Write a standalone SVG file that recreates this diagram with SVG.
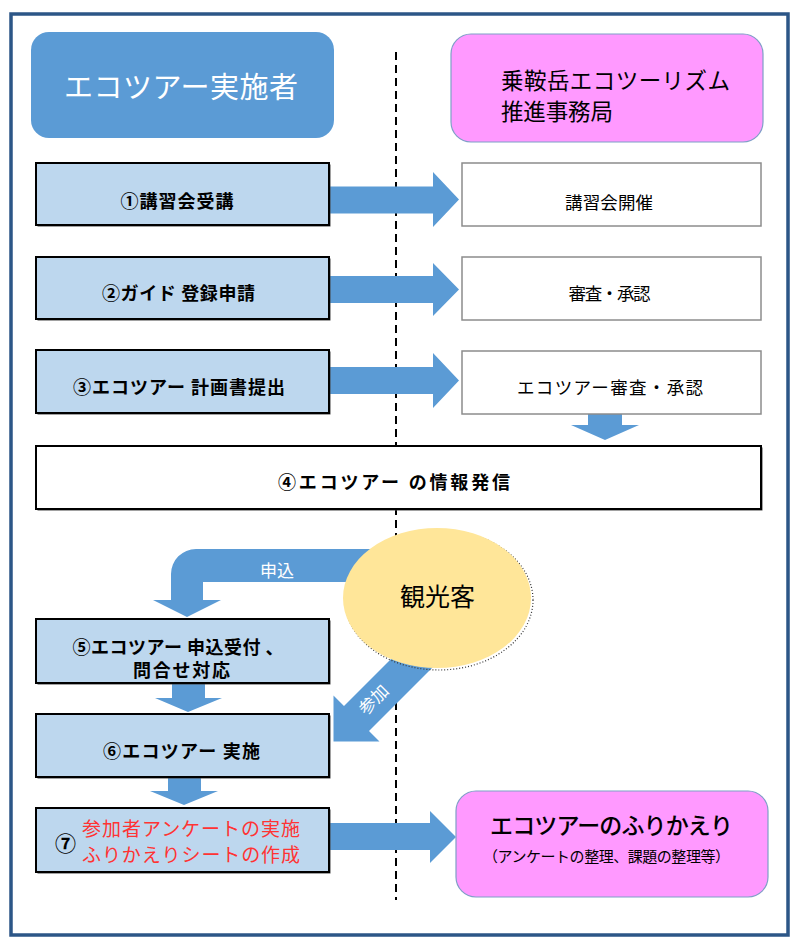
<svg xmlns="http://www.w3.org/2000/svg" width="801" height="945" viewBox="0 0 801 945">
<style>
text{font-family:"Noto Sans CJK JP","Noto Sans",sans-serif;}
.step{fill:#bdd7ee;stroke:#000;stroke-width:2;}
.shadow{fill:#444;}
.resp{fill:#fff;stroke:#8c8c8c;stroke-width:1.5;}
.arr{fill:#5b9bd5;}
.bt{font-size:18px;font-weight:bold;fill:#000;text-anchor:middle;}
.rt{font-size:17.5px;fill:#000;text-anchor:middle;}
.red{font-size:19px;fill:#ff3333;}
</style>
<rect x="0" y="0" width="801" height="945" fill="#fff"/>
<rect id="frame" x="11" y="14" width="777" height="921" fill="#fff" stroke="#2c5687" stroke-width="3.5"/>
<line id="divider" x1="396" y1="52" x2="396" y2="900" stroke="#000" stroke-width="2" stroke-dasharray="8,5"/>

<g id="connectors">
<polygon class="arr" points="330,186.5 433,186.5 433,172 459,199.5 433,227 433,213.5 330,213.5"/>
<polygon class="arr" points="330,276 433,276 433,263 459,289.5 433,316 433,303 330,303"/>
<polygon class="arr" points="330,367 433,367 433,353 459,380.5 433,408 433,394 330,394"/>
<polygon class="arr" points="588,410 622,410 622,425 639,425 605,440 571,425 588,425"/>
<polygon class="arr" points="172,683 205,683 205,698 222,698 188,712 155,698 172,698"/>
<polygon class="arr" points="168,777 201,777 201,791 218,791 184,805 150,791 168,791"/>
<polygon class="arr" points="329,823 430,823 430,811 456,837 430,863 430,850 329,850"/>
<path class="arr" d="M400,549 L196,549 A25,25 0 0 0 171,574 L171,600 L153,600 L187,617 L221,600 L203,600 L203,582 L400,582 Z"/>
<text x="277" y="577" font-size="17" fill="#fff" text-anchor="middle">申込</text>
<polygon class="arr" points="415,635 344,706 333.5,695.5 333.5,741.5 379.5,741.5 369,731 440,660"/>
<text x="0" y="0" font-size="17" fill="#fff" text-anchor="middle" transform="translate(378,704) rotate(-45)">参加</text>
</g>

<g id="header-left">
<rect x="31" y="32" width="303" height="106" rx="18" fill="#5b9bd5"/>
<text x="181" y="98" font-size="29" fill="#fff" text-anchor="middle" textLength="234" lengthAdjust="spacing">エコツアー実施者</text>
</g>
<g id="header-right">
<rect x="451" y="34" width="312" height="108" rx="20" fill="#ff99ff" stroke="#7f9fc7" stroke-width="1.2"/>
<text x="501" y="89" font-size="22.5" fill="#000" textLength="229" lengthAdjust="spacing">乗鞍岳エコツーリズム</text>
<text x="501" y="119.5" font-size="22.5" fill="#000" textLength="112" lengthAdjust="spacing">推進事務局</text>
</g>

<g id="step1">
<rect class="shadow" x="37.5" y="164.5" width="293" height="62"/>
<rect class="step" x="36" y="163" width="293" height="62"/>
<text class="bt" x="177" y="208" textLength="113" lengthAdjust="spacing">①講習会受講</text>
</g>
<g id="step2">
<rect class="shadow" x="37.5" y="258.5" width="293" height="62"/>
<rect class="step" x="36" y="257" width="293" height="62"/>
<text class="bt" x="178.5" y="299.5" textLength="153" lengthAdjust="spacing">②ガイド 登録申請</text>
</g>
<g id="step3">
<rect class="shadow" x="37.5" y="351.5" width="293" height="63"/>
<rect class="step" x="36" y="350" width="293" height="63"/>
<text class="bt" x="179" y="394" textLength="212" lengthAdjust="spacing">③エコツアー 計画書提出</text>
</g>

<g id="office1">
<rect class="resp" x="462" y="163" width="299" height="63"/>
<text class="rt" x="609" y="209" textLength="88" lengthAdjust="spacing">講習会開催</text>
</g>
<g id="office2">
<rect class="resp" x="462" y="257" width="299" height="63"/>
<text class="rt" x="609.5" y="300" textLength="82" lengthAdjust="spacing">審査・承認</text>
</g>
<g id="office3">
<rect class="resp" x="462" y="351" width="299" height="63"/>
<text class="rt" x="610" y="393.5" textLength="186" lengthAdjust="spacing">エコツアー審査・承認</text>
</g>

<g id="step4">
<rect class="shadow" x="37.5" y="447.5" width="725" height="63"/>
<rect x="36" y="446" width="725" height="63" fill="#fff" stroke="#000" stroke-width="2"/>
<text class="bt" x="394" y="489" font-size="19" textLength="232" lengthAdjust="spacing">④エコツアー の情報発信</text>
</g>

<g id="tourist">
<ellipse cx="439" cy="600" rx="94" ry="70" fill="none" stroke="#333" stroke-width="1.2" stroke-dasharray="1,2"/>
<ellipse cx="437" cy="598" rx="94" ry="70" fill="#ffe699"/>
<text x="437.5" y="606" font-size="25" fill="#000" text-anchor="middle">観光客</text>
</g>

<g id="step5">
<rect class="shadow" x="37.5" y="620.5" width="293" height="64"/>
<rect class="step" x="36" y="619" width="293" height="64"/>
<text class="bt" x="178" y="653.5" font-size="17" textLength="211" lengthAdjust="spacing">⑤エコツアー 申込受付 、</text>
<text class="bt" x="181.5" y="677" font-size="17" textLength="97" lengthAdjust="spacing">問合せ対応</text>
</g>
<g id="step6">
<rect class="shadow" x="37.5" y="715.5" width="293" height="63"/>
<rect class="step" x="36" y="714" width="293" height="63"/>
<text class="bt" x="181.5" y="758" textLength="157" lengthAdjust="spacing">⑥エコツアー 実施</text>
</g>
<g id="step7">
<rect class="shadow" x="37.5" y="809.5" width="293" height="64"/>
<rect class="step" x="36" y="808" width="293" height="64"/>
<text x="65.5" y="851" font-size="21" font-weight="bold" text-anchor="middle">⑦</text>
<text class="red" x="82" y="836" textLength="218" lengthAdjust="spacing">参加者アンケートの実施</text>
<text class="red" x="82" y="862" textLength="218" lengthAdjust="spacing">ふりかえりシートの作成</text>
</g>

<g id="review">
<rect x="456" y="791" width="312" height="106" rx="20" fill="#ff99ff" stroke="#7f9fc7" stroke-width="1.2"/>
<text x="611.5" y="834" font-size="23" font-weight="500" fill="#000" text-anchor="middle" textLength="243" lengthAdjust="spacing">エコツアーのふりかえり</text>
<text x="606.5" y="861.5" font-size="15" fill="#000" text-anchor="middle" textLength="247" lengthAdjust="spacing">（アンケートの整理、課題の整理等）</text>
</g>
</svg>
